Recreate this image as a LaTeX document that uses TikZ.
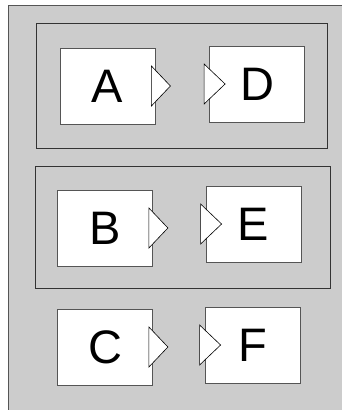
\documentclass[tikz,border=0pt]{standalone}
\usepackage{fontspec}
\setmainfont{Liberation Sans}
\definecolor{bggray}{HTML}{CCCCCC}
\definecolor{edgegray}{HTML}{555555}
\begin{document}
\begin{tikzpicture}[x=1pt,y=-1pt,
  block/.style={draw=edgegray, line width=0.8pt, fill=white, inner sep=0pt,
    minimum width=95pt, minimum height=76pt, font=\fontsize{47}{47}\selectfont},
  group/.style={draw=black!80, line width=0.8pt},
  port/.style={draw=black, line width=0.6pt, fill=white, line join=miter}]
\useasboundingbox (0,0) rectangle (342,410);
\draw[fill=bggray, draw=edgegray, line width=1pt] (8,5) rectangle (360,430);
\draw[group] (36,23) rectangle (327,148);
\draw[group] (35,166) rectangle (330,288);
\node[block] (A) at (107.5,86) {A};
\node[block] (D) at (257,84) {D};
\node[block] (B) at (105,228) {B};
\node[block] (E) at (253.5,224) {E};
\node[block] (C) at (105,347) {C};
\node[block] (F) at (252.5,345) {F};
\foreach \n in {A,B,C}{
  \draw[port] ([xshift=-4pt,yshift=20pt]\n.east) -- ([xshift=15pt]\n.east) -- ([xshift=-4pt,yshift=-20pt]\n.east) -- cycle;
}
\foreach \n in {D,E,F}{
  \draw[port] ([xshift=-5pt,yshift=20pt]\n.west) -- ([xshift=16pt]\n.west) -- ([xshift=-5pt,yshift=-20pt]\n.west) -- cycle;
}
\end{tikzpicture}
\end{document}
